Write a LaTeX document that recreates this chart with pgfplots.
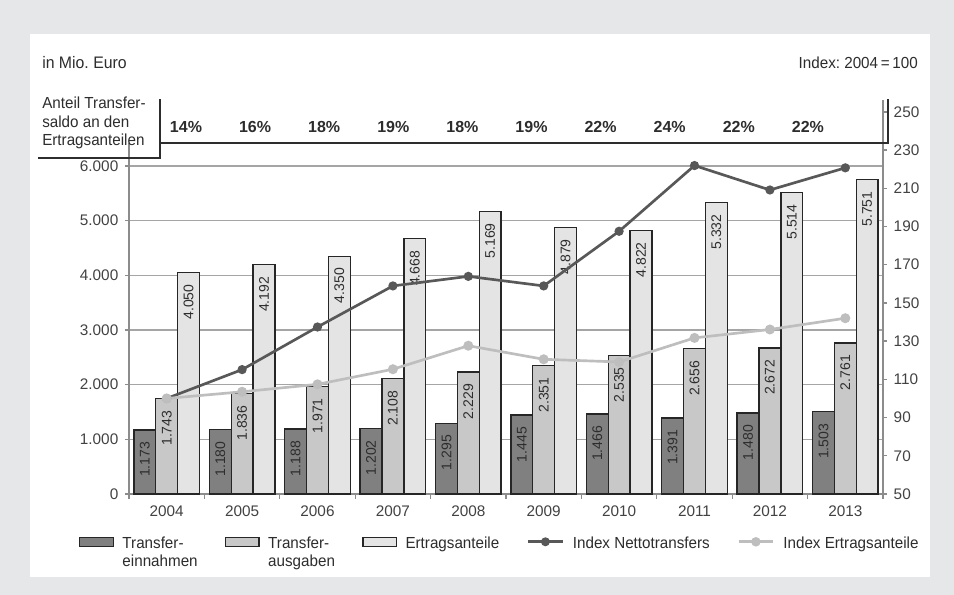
\documentclass[border=0pt]{standalone}
\usepackage{fontspec}
\setmainfont{Liberation Sans}
\newfontfamily\cond[FakeStretch=0.95]{Liberation Sans}
\usepackage{pgfplots}
\pgfplotsset{compat=1.18}
\frenchspacing
\definecolor{bg}{RGB}{230,231,232}
\definecolor{cDark}{RGB}{128,128,128}
\definecolor{cMid}{RGB}{200,200,200}
\definecolor{cLight}{RGB}{228,228,228}
\definecolor{lDark}{RGB}{88,88,88}
\definecolor{lLight}{RGB}{190,190,190}
\definecolor{gridc}{RGB}{165,165,165}
\definecolor{txt}{RGB}{45,45,45}
\newcommand{\legtwo}[2]{\strut #1\\\strut #2}
\begin{document}
\begin{tikzpicture}
\begin{scope}[x=0.75pt,y=-0.75pt]
\fill[bg] (0,0) rectangle (954,595);
\fill[white] (30,34) rectangle (930,577);
\end{scope}
% left axis: bars
\begin{axis}[
  at={(96.75pt,-370.5pt)}, anchor=south west,
  scale only axis, width=565.5pt, height=263.25pt,
  xmin=-0.5, xmax=9.5, ymin=0, ymax=6420,
  axis y line*=left, axis x line*=bottom,
  axis line style={gridc!85!black, line width=1.1pt},
  tick align=outside,
  major tick length=3pt, minor tick length=3.75pt,
  tick style={gridc!85!black, line width=1pt},
  xtick={0,...,9},
  xticklabels={2004,2005,2006,2007,2008,2009,2010,2011,2012,2013},
  major x tick style={draw=none},
  minor xtick={-0.5,0.5,...,9.5},
  ytick={0,1000,...,6000},
  ymajorgrids, grid style={gridc, line width=1.1pt},
  /pgf/number format/assume math mode=true,
  /pgf/number format/1000 sep={.},
  ticklabel style={font=\fontsize{11.5}{13}\selectfont, text=txt!90!white},
  xticklabel shift=2.5pt, yticklabel shift=1.5pt,
  ybar=0pt, bar width=0.29,
  every axis plot/.append style={draw=black!85, line width=1pt},
  nodes near coords,
  every node near coord/.append style={rotate=90, anchor=east, inner xsep=8.5pt, inner ysep=0pt, font=\fontsize{10.5}{12}\selectfont, text=txt},
  clip=false,
]
\addplot[fill=cDark] coordinates {(0,1173)(1,1180)(2,1188)(3,1202)(4,1295)(5,1445)(6,1466)(7,1391)(8,1480)(9,1503)};
\addplot[fill=cMid] coordinates {(0,1743)(1,1836)(2,1971)(3,2108)(4,2229)(5,2351)(6,2535)(7,2656)(8,2672)(9,2761)};
\addplot[fill=cLight] coordinates {(0,4050)(1,4192)(2,4350)(3,4668)(4,5169)(5,4879)(6,4822)(7,5332)(8,5514)(9,5751)};
\end{axis}
% right axis: index lines
\begin{axis}[
  at={(96.75pt,-370.5pt)}, anchor=south west,
  scale only axis, width=565.5pt, height=295.5pt,
  xmin=-0.5, xmax=9.5, ymin=50, ymax=256.2,
  axis y line*=right, axis x line=none,
  axis line style={gridc!85!black, line width=1.1pt},
  tick align=outside, major tick length=3pt,
  tick style={gridc!85!black, line width=1pt},
  ytick={50,70,...,250},
  /pgf/number format/assume math mode=true,
  ticklabel style={font=\fontsize{11.5}{13}\selectfont, text=txt!90!white},
  yticklabel shift=1.5pt,
  clip=false,
  legend columns=5,
  legend style={at={(-0.0663,-0.101)}, anchor=north west, draw=none, fill=none, inner sep=0pt,
    font=\cond\fontsize{12}{13}\selectfont, text=txt,
    cells={anchor=west, align=left},
    /tikz/every odd column/.append style={column sep=4.5pt},
    /tikz/every even column/.append style={column sep=18.5pt}},
]
\addlegendimage{legend image code/.code={\path[draw=none,fill=none] (0pt,-12pt) -- (0pt,12pt); \draw[fill=cDark,draw=black!85,line width=0.9pt] (0pt,4.7pt) rectangle (25pt,11.3pt);}}
\addlegendentry{\legtwo{Transfer-}{einnahmen}}
\addlegendimage{legend image code/.code={\path[draw=none,fill=none] (0pt,-12pt) -- (0pt,12pt); \draw[fill=cMid,draw=black!85,line width=0.9pt] (0pt,4.7pt) rectangle (25pt,11.3pt);}}
\addlegendentry{\legtwo{Transfer-}{ausgaben}}
\addlegendimage{legend image code/.code={\path[draw=none,fill=none] (0pt,-12pt) -- (0pt,12pt); \draw[fill=cLight,draw=black!85,line width=0.9pt] (0pt,4.7pt) rectangle (25pt,11.3pt);}}
\addlegendentry{\legtwo{Ertragsanteile}{}}
\addplot[lDark, line width=2pt, mark=*, mark size=2.4pt, mark options={fill=lDark, draw=lDark},
  legend image code/.code={\path[draw=none,fill=none] (0pt,-12pt) -- (0pt,12pt); \draw[lDark,line width=2.2pt] (0pt,8pt) -- (26pt,8pt); \fill[lDark] (13pt,8pt) circle (2.3pt);}]
  coordinates {(0,100)(1,115.1)(2,137.4)(3,158.9)(4,163.9)(5,158.9)(6,187.5)(7,221.9)(8,209.1)(9,220.7)};
\addlegendentry{\legtwo{Index Nettotransfers}{}}
\addplot[lLight, line width=2pt, mark=*, mark size=2.7pt, mark options={fill=lLight, draw=lLight},
  legend image code/.code={\path[draw=none,fill=none] (0pt,-12pt) -- (0pt,12pt); \draw[lLight,line width=2.2pt] (0pt,8pt) -- (26pt,8pt); \fill[lLight] (13pt,8pt) circle (2.5pt);}]
  coordinates {(0,100)(1,103.5)(2,107.4)(3,115.3)(4,127.6)(5,120.5)(6,119.1)(7,131.7)(8,136.1)(9,142.0)};
\addlegendentry{\legtwo{Index Ertragsanteile}{}}
\end{axis}
\begin{scope}[x=0.75pt,y=-0.75pt]
\draw[txt, line width=1.3pt] (38,158) -- (160,158) -- (160,99);
\draw[txt, line width=1.3pt] (160,143) -- (888,143) -- (888,99);
\node[anchor=west, font=\cond\fontsize{12.5}{14}\selectfont, text=txt, inner sep=0pt] at (42,63) {in Mio.\ Euro};
\node[anchor=east, font=\cond\fontsize{12}{14}\selectfont, text=txt, inner sep=0pt] at (918,63) {Index:\ 2004\,=\,100};
\node[anchor=north west, align=left, font=\cond\fontsize{12}{13.9}\selectfont, text=txt, inner sep=0pt] at (42,97) {Anteil Transfer-\\saldo an den\\Ertragsanteilen};
\foreach \p [count=\i from 0] in {14,16,18,19,18,19,22,24,22,22}
  \node[font=\bfseries\fontsize{12}{14}\selectfont, text=txt] at ({186+69.1*\i},127) {\p\%};
\pgfresetboundingbox
\path[use as bounding box] (0,0) rectangle (954,595);
\end{scope}
\end{tikzpicture}
\end{document}
